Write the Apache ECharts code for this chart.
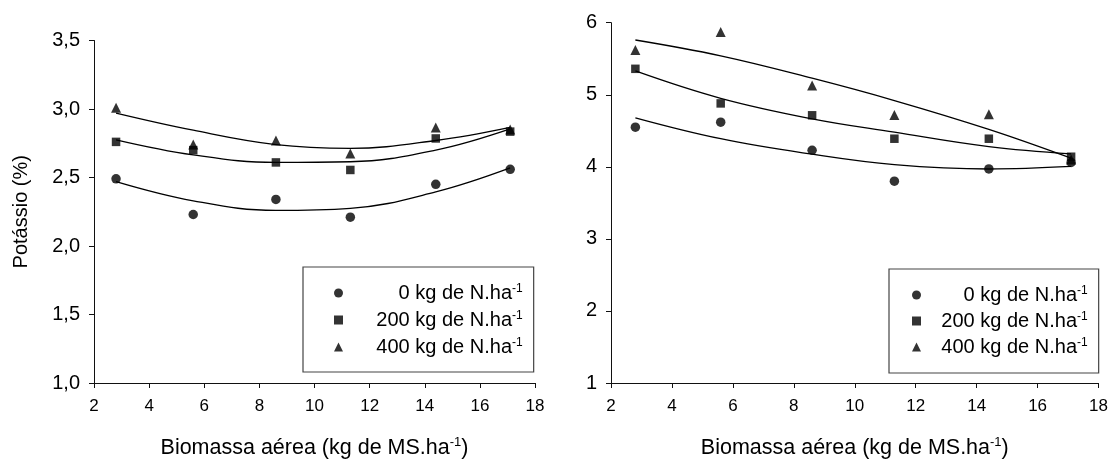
<!DOCTYPE html>
<html>
<head>
<meta charset="utf-8">
<script src="https://cdn.jsdelivr.net/npm/echarts@6/dist/echarts.min.js"></script>
<style>
  html, body { margin: 0; padding: 0; background: #fff; }
  #chart { width: 1111px; height: 464px; }
</style>
</head>
<body>
<div id="chart"></div>
<script>
// Biomass sampling points (kg de MS.ha-1)
const biomassa = [2.8, 5.6, 8.6, 11.3, 14.4, 17.1];

// Dose labels (superscript added when drawn)
const doses = ['0 kg de N.ha', '200 kg de N.ha', '400 kg de N.ha'];

// Left panel: potassium (%) observed
const kLeft0   = [2.49, 2.23, 2.34, 2.21, 2.45, 2.56];
const kLeft200 = [2.76, 2.70, 2.61, 2.555, 2.785, 2.835];
const kLeft400 = [3.01, 2.74, 2.77, 2.675, 2.865, 2.85];
// Left panel: fitted curves
const fitLeft0   = [2.47, 2.33, 2.26, 2.275, 2.395, 2.57];
const fitLeft200 = [2.775, 2.665, 2.61, 2.615, 2.70, 2.855];
const fitLeft400 = [2.97, 2.845, 2.74, 2.713, 2.77, 2.866];

// Right panel: observed
const kRight0   = [4.55, 4.62, 4.23, 3.80, 3.97, 4.06];
const kRight200 = [5.36, 4.88, 4.715, 4.39, 4.39, 4.14];
const kRight400 = [5.62, 5.87, 5.13, 4.72, 4.73, 4.10];
// Right panel: fitted curves
const fitRight0   = [4.68, 4.39, 4.175, 4.03, 3.97, 4.005];
const fitRight200 = [5.33, 4.95, 4.665, 4.48, 4.28, 4.18];
const fitRight400 = [5.76, 5.54, 5.23, 4.92, 4.52, 4.12];

// Axis tick settings
const xTicks = { min: 2, max: 18, interval: 2 };
const yTicksLeft = { min: 1, max: 3.5, interval: 0.5 };
const yTicksRight = { min: 1, max: 6, interval: 1 };

const FONT = '"Liberation Sans", Arial, Helvetica, sans-serif';
const symbols = ['circle', 'rect', 'triangle'];
const symbolSizes = [9.5, 8.5, 10];

const pairs = (ys) => biomassa.map((x, i) => [x, ys[i]]);

// measure legend text so it can be right-aligned in a fixed column
const measureCtx = document.createElement('canvas').getContext('2d');
measureCtx.font = '20px ' + FONT;
const textWidth = (s) => measureCtx.measureText(s).width;

function axisX(gridIndex) {
  return {
    type: 'value', gridIndex,
    min: xTicks.min, max: xTicks.max, interval: xTicks.interval,
    axisLine: { show: true, lineStyle: { color: '#111', width: 1 } },
    axisTick: { show: true, inside: false, length: 5, lineStyle: { color: '#111' } },
    splitLine: { show: false },
    axisLabel: { color: '#000', fontSize: 17, fontFamily: FONT, margin: 15 },
    name: '{a|Biomassa aérea (kg de MS.ha}{s|-1}{a|)}',
    nameLocation: 'middle',
    nameGap: 53,
    nameTextStyle: {
      rich: {
        a: { fontSize: 21.5, fontFamily: FONT, color: '#000', lineHeight: 24 },
        s: { fontSize: 13, fontFamily: FONT, color: '#000', verticalAlign: 'top' }
      }
    }
  };
}

function axisY(gridIndex, ticks, fmt, extra) {
  return Object.assign({
    type: 'value', gridIndex,
    min: ticks.min, max: ticks.max, interval: ticks.interval,
    axisLine: { show: true, lineStyle: { color: '#111', width: 1 } },
    axisTick: { show: true, inside: false, length: 5, lineStyle: { color: '#111' } },
    splitLine: { show: false },
    axisLabel: { color: '#000', fontSize: 20, fontFamily: FONT, margin: 14, formatter: fmt }
  }, extra || {});
}

function legendFor(left, top, mainWidth, padding, gap) {
  const rich = {
    s: { fontSize: 12, fontFamily: FONT, color: '#000', verticalAlign: 'top' }
  };
  doses.forEach((d, i) => {
    rich['a' + i] = {
      fontSize: 20, fontFamily: FONT, color: '#000', lineHeight: 20,
      padding: [0, 0, 0, Math.max(0, mainWidth - textWidth(d))]
    };
  });
  return {
    data: doses,
    orient: 'vertical',
    left, top,
    padding,
    itemGap: gap,
    itemWidth: 9, itemHeight: 9,
    borderColor: '#444', borderWidth: 1.2,
    selectedMode: false,
    formatter: (name) => '{a' + doses.indexOf(name) + '|' + name + '}{s|-1}',
    textStyle: { rich }
  };
}

const observedLeft = [kLeft0, kLeft200, kLeft400];
const fittedLeft = [fitLeft0, fitLeft200, fitLeft400];
const observedRight = [kRight0, kRight200, kRight400];
const fittedRight = [fitRight0, fitRight200, fitRight400];

const series = [];
[[observedLeft, fittedLeft, 0], [observedRight, fittedRight, 1]].forEach(([obs, fit, g]) => {
  fit.forEach((ys) => {
    series.push({
      type: 'line', xAxisIndex: g, yAxisIndex: g,
      data: pairs(ys), smooth: 0.4, showSymbol: false, silent: true,
      lineStyle: { color: '#000', width: 1.3 }, z: 1
    });
  });
  obs.forEach((ys, i) => {
    series.push({
      type: 'scatter', name: doses[i], xAxisIndex: g, yAxisIndex: g,
      data: pairs(ys), symbol: symbols[i], symbolSize: symbolSizes[i],
      itemStyle: { color: '#000' }, z: 3
    });
  });
});

const chart = echarts.init(document.getElementById('chart'), null, { renderer: 'canvas' });
chart.setOption({
  animation: false,
  backgroundColor: '#fff',
  grid: [
    { left: 94, top: 40.5, width: 441, height: 343.5, containLabel: false },
    { left: 611, top: 22.7, width: 488, height: 362.3, containLabel: false }
  ],
  xAxis: [axisX(0), axisX(1)],
  yAxis: [
    axisY(0, yTicksLeft, (v) => v.toFixed(1).replace('.', ','), {
      name: 'Potássio (%)', nameLocation: 'middle', nameGap: 63,
      nameTextStyle: { fontSize: 20, fontFamily: FONT, color: '#000' }
    }),
    axisY(1, yTicksRight, (v) => String(v))
  ],
  legend: [
    legendFor(303, 267, 164, [16, 11, 15, 31], 7),
    legendFor(889, 269, 151, [16, 11, 16, 23], 6)
  ],
  series
});
</script>
</body>
</html>
